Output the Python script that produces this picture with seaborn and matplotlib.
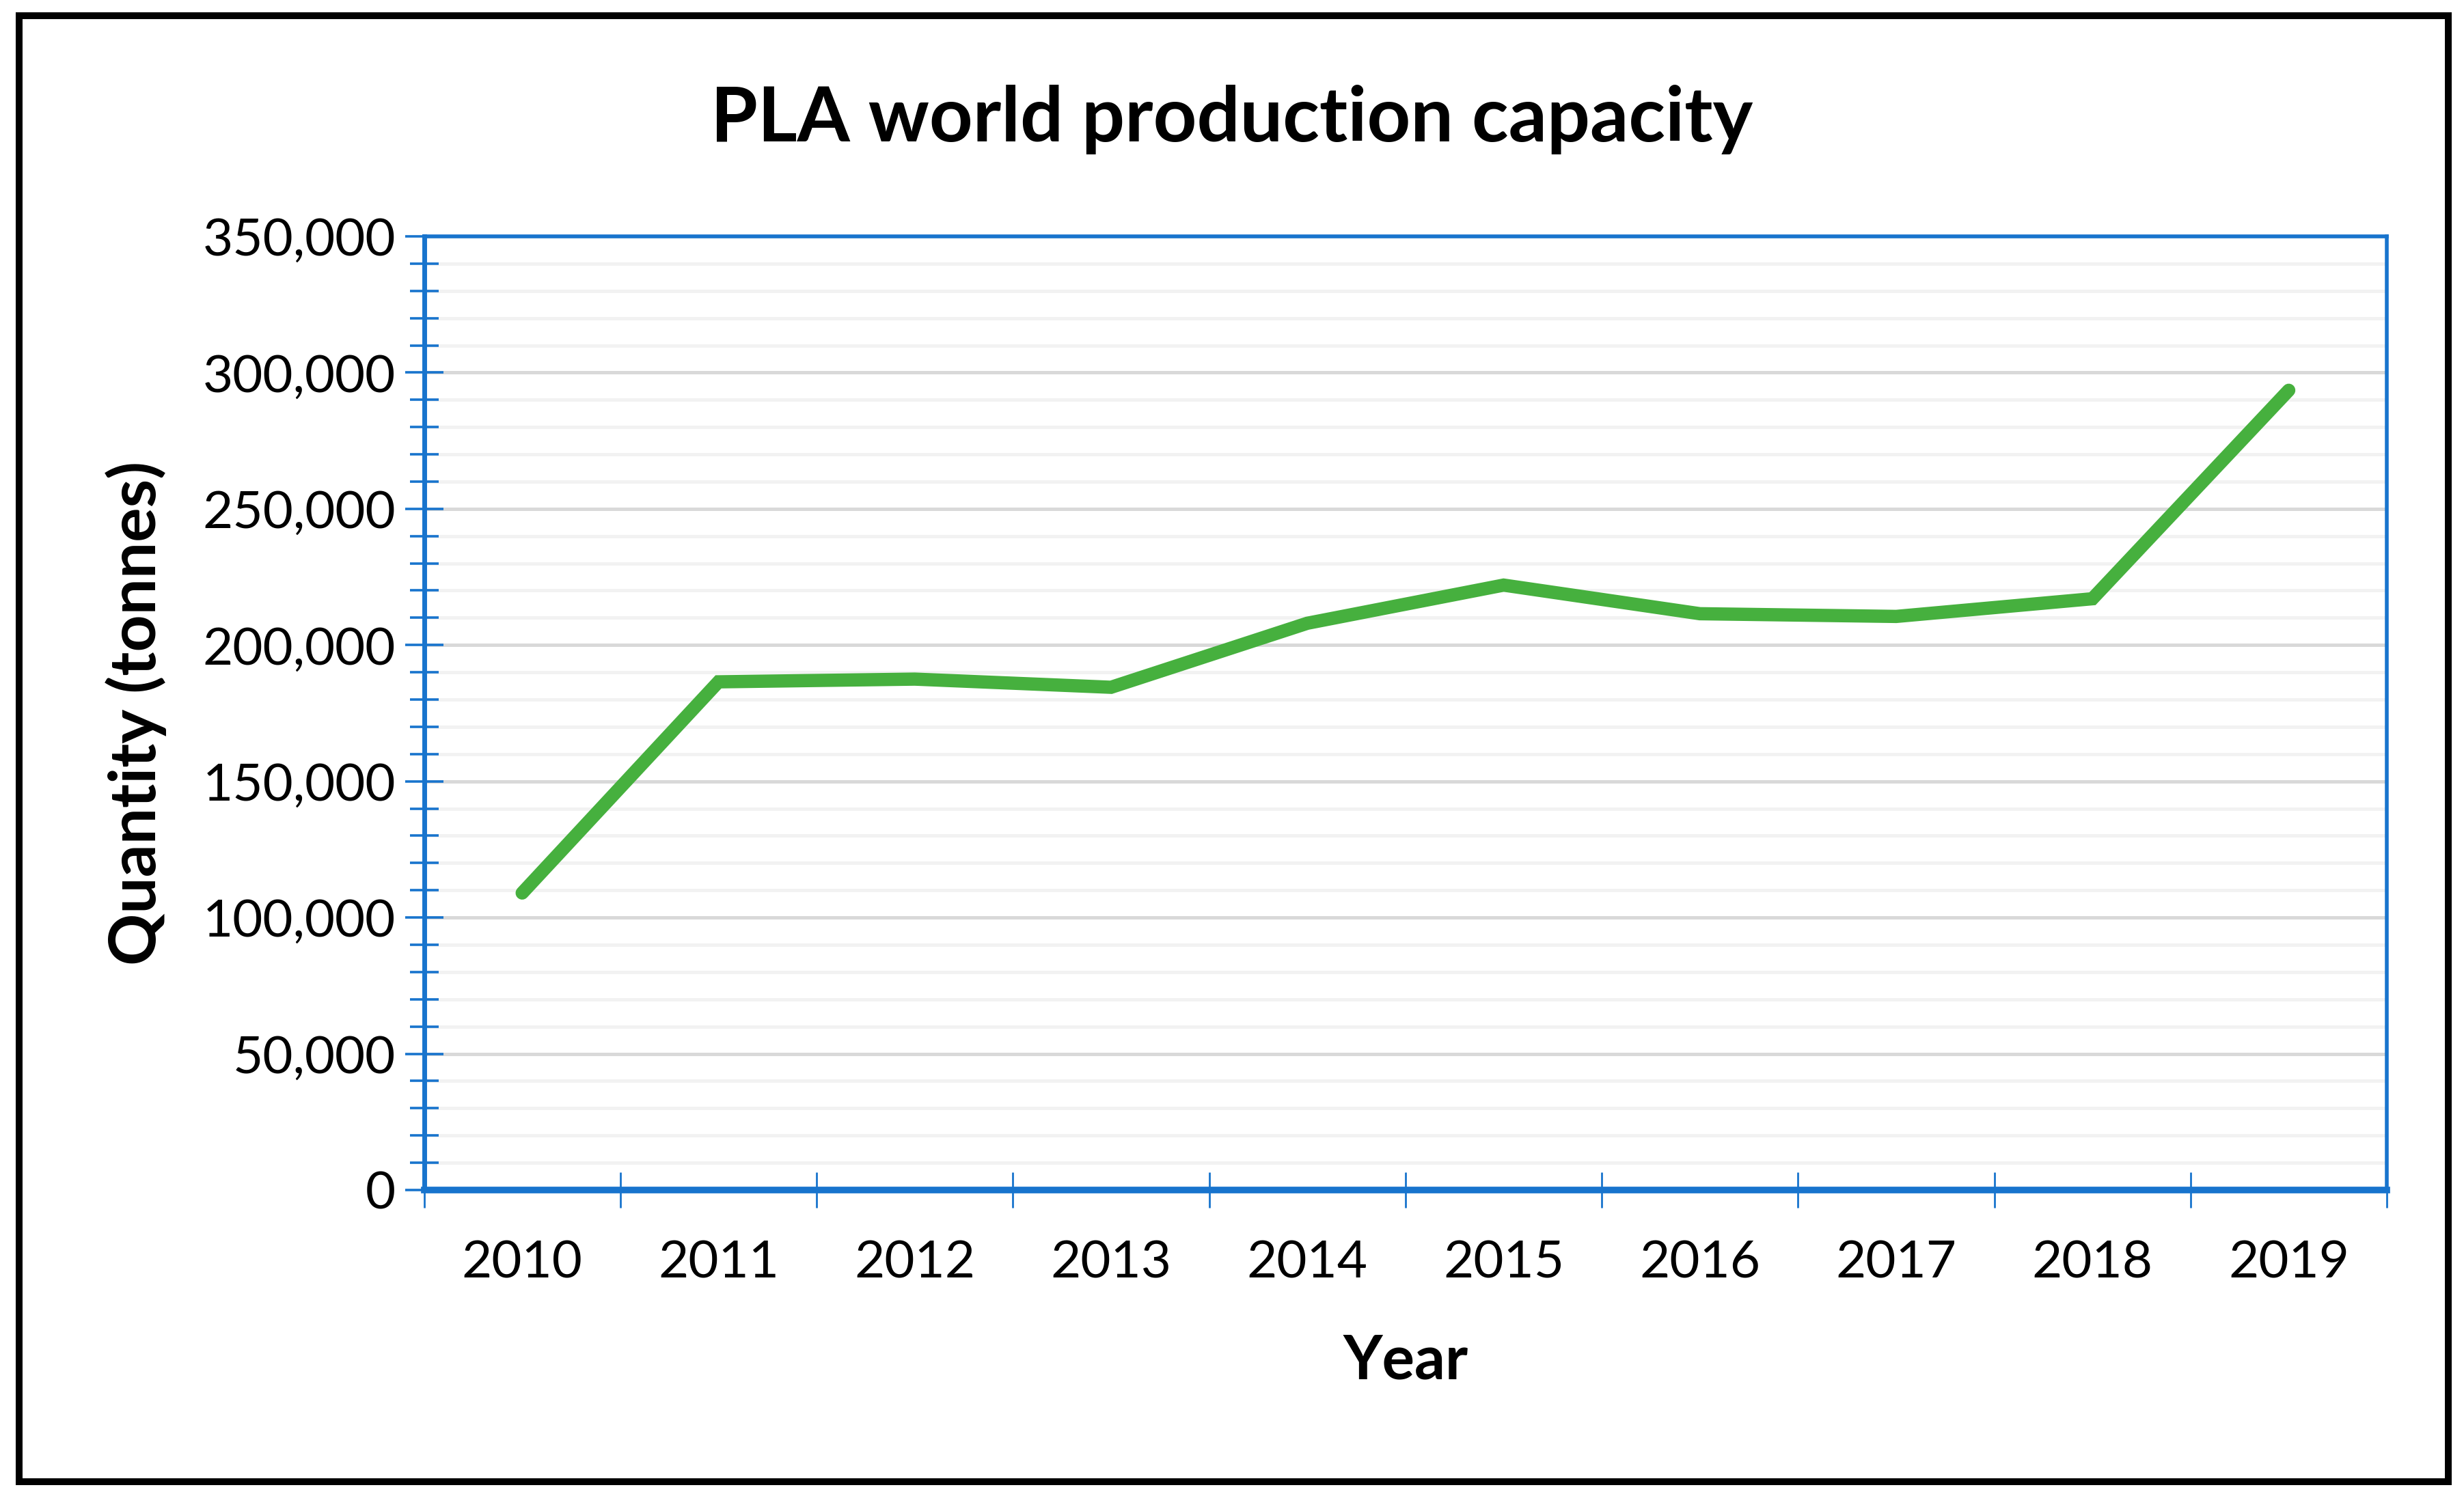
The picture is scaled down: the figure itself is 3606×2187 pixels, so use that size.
import numpy as np
import pandas as pd
import matplotlib
matplotlib.use("Agg")
import matplotlib.pyplot as plt
import matplotlib.ticker as mticker
from matplotlib.patches import Rectangle
import seaborn as sns

years = ["2010", "2011", "2012", "2013", "2014", "2015", "2016", "2017", "2018", "2019"]
capacity = [109000, 186500, 187500, 184500, 208000, 222000, 211500, 210500, 217000, 293500]

df = pd.DataFrame({"year": years, "capacity": capacity})

sns.set_style("white")
plt.rcParams['font.family'] = ['Lato', 'DejaVu Sans']
plt.rcParams['text.color'] = 'black'

blue = "#1874cd"
green = "#46b03e"

fig = plt.figure(figsize=(18.03, 10.935), dpi=200)
ax = fig.add_axes([0.1721, 0.2035, 0.9687 - 0.1721, 0.8418 - 0.2035])

sns.lineplot(ax=ax, data=df, x="year", y="capacity", color=green, linewidth=7,
             solid_capstyle="round", solid_joinstyle="miter")

ax.set_xlim(-0.5, len(years) - 0.5)
ax.set_ylim(0, 350000)

ax.yaxis.set_major_locator(mticker.MultipleLocator(50000))
ax.yaxis.set_minor_locator(mticker.MultipleLocator(10000))
ax.yaxis.set_major_formatter(mticker.FuncFormatter(lambda v, p: f"{v:,.0f}"))
ax.xaxis.set_minor_locator(mticker.FixedLocator(np.arange(-0.5, len(years), 1.0)))

ax.set_axisbelow(True)
ax.grid(axis="y", which="major", color="#d9d9d9", linewidth=1.8)
ax.grid(axis="y", which="minor", color="#f2f2f2", linewidth=1.8)
ax.grid(axis="x", which="both", visible=False)

ax.tick_params(axis="y", which="both", left=True)
ax.tick_params(axis="x", which="both", bottom=True)
ax.tick_params(axis="y", which="major", direction="inout", length=20, width=1.3,
               color=blue, labelsize=27.5, pad=5, labelcolor="black")
ax.tick_params(axis="y", which="minor", direction="inout", length=15, width=1.3, color=blue)
ax.tick_params(axis="x", which="major", length=0, labelsize=27.5, pad=26, labelcolor="black")
ax.tick_params(axis="x", which="minor", direction="inout", length=19, width=1.0, color=blue)

for side, lw in [("left", 2.5), ("bottom", 3.5), ("top", 2.0), ("right", 2.0)]:
    ax.spines[side].set_visible(True)
    ax.spines[side].set_color(blue)
    ax.spines[side].set_linewidth(lw)

ax.set_xlabel("Year", fontsize=32, fontweight="bold", color="black")
ax.set_ylabel("Quantity (tonnes)", fontsize=34, fontweight="bold", color="black")
ax.xaxis.set_label_coords(0.5, -0.15)
ax.yaxis.set_label_coords(-0.131, 0.5)

fig.text(0.5, 0.92, "PLA world production capacity", ha="center", va="center",
         fontsize=40, fontweight="bold", color="black")

fig.patches.append(Rectangle((0.0078, 0.0082), 0.9936 - 0.0078, 0.9895 - 0.0082,
                             transform=fig.transFigure, fill=False,
                             edgecolor="black", linewidth=3.6))

fig.savefig("out.png", dpi=200)
